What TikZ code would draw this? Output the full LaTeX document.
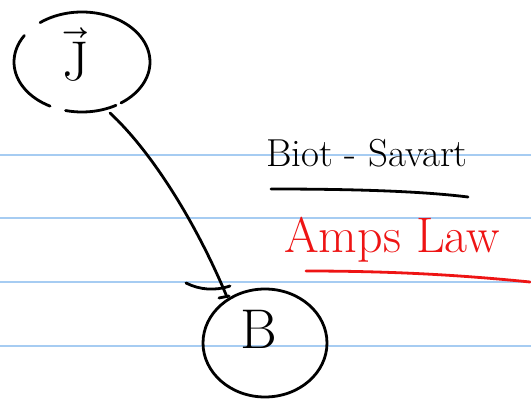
\documentclass[tikz,border=0pt]{standalone}
\usepackage{fontspec}
\usepackage{unicode-math}
\setmathfont{Latin Modern Math}
\definecolor{ruled}{RGB}{166,204,242}
\definecolor{inkred}{RGB}{238,20,20}
\tikzset{
  ink/.style={line width=2.8pt, line cap=round, line join=round},
  rule/.style={ruled, line width=1.6pt},
  big/.style={font=\fontsize{56}{56}\selectfont, inner sep=0pt},
}
\begin{document}
\begin{tikzpicture}[x=1pt,y=-1pt]
  \useasboundingbox (0,0) rectangle (531,404);
  \fill[white] (0,0) rectangle (531,404);
  % ruled notebook lines
  \foreach \yy in {155,218,282,346} \draw[rule] (0,\yy) -- (531,\yy);

  % current density J inside a broken loop
  \node[big] (J) at (76,55) {$\vec{\mathup{J}}$};
  \draw[ink] (82,62) ++(232:68 and 50) arc[start angle=232, end angle=415, x radius=68, y radius=50];
  \draw[ink] (82,62) ++(60:68 and 50) arc[start angle=60, end angle=104, x radius=68, y radius=50];
  \draw[ink] (82,62) ++(118:68 and 50) arc[start angle=118, end angle=212, x radius=68, y radius=50];

  % field B inside its loop
  \node[big] (B) at (259,329) {$\mathup{B}$};
  \draw[ink] (265,343) ellipse[x radius=62, y radius=54];

  % connector from J to B
  \coordinate (jout) at (110,113);
  \coordinate (bin) at (227,297);
  \draw[ink] (jout) .. controls (150,150) and (195,220) .. (bin);
  \draw[ink] (186,283) .. controls (200,290) and (215,291) .. (230,286);
  \draw[ink] (219,298) -- (229,296);

  % headings
  \node[font=\fontsize{39}{39}\selectfont, anchor=base west, inner sep=0pt] (bs) at (266,167) {Biot - Savart};
  \draw[ink] (271,189) .. controls (350,189) and (420,191) .. (468,197);
  \node[font=\fontsize{50}{50}\selectfont, anchor=base west, inner sep=0pt, text=inkred] (al) at (284,252) {Amps Law};
  \draw[ink, inkred] (306,271) .. controls (400,271) and (470,276) .. (530,282);
\end{tikzpicture}
\end{document}
